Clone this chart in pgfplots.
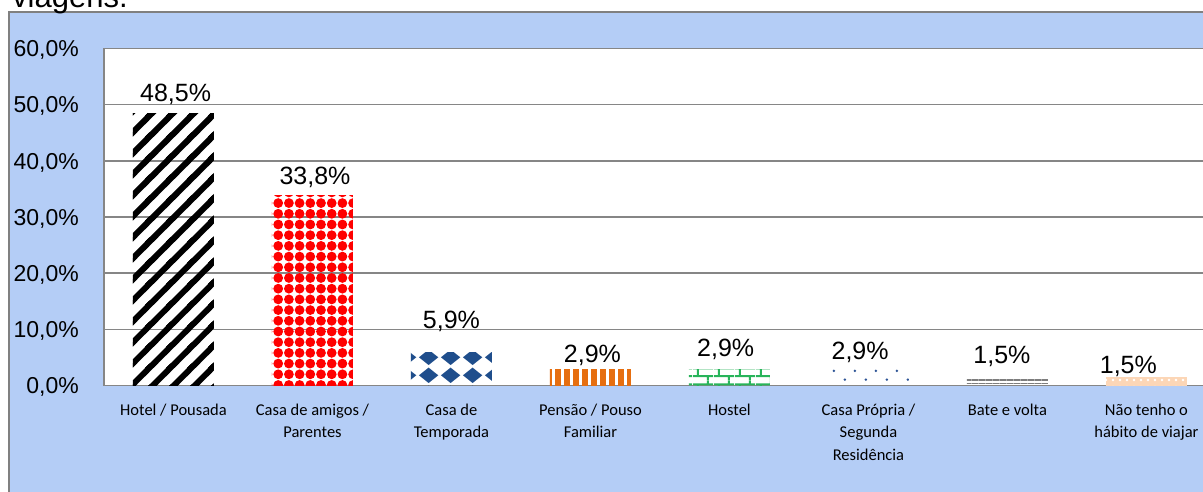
\documentclass[border=0pt]{standalone}
\usepackage{pgfplots}
\pgfplotsset{compat=1.18}
\usepackage{fontspec}
\setmainfont{Liberation Sans}
\newfontfamily\calibri{Carlito}
\usetikzlibrary{patterns.meta}

\definecolor{chartbg}{RGB}{180,205,246}
\definecolor{gridgray}{RGB}{134,134,134}
\definecolor{borderg}{RGB}{128,128,128}
\definecolor{tempblue}{RGB}{31,78,140}
\definecolor{pensaoor}{RGB}{230,110,15}
\definecolor{hostelgr}{RGB}{40,180,90}
\definecolor{propblue}{RGB}{47,85,151}
\definecolor{bategray}{RGB}{125,125,125}
\definecolor{peach}{RGB}{252,214,182}

\tikzdeclarepattern{
  name=widestripes,
  type=uncolored,
  bottom left={(-2bp,-2bp)},
  top right={(23bp,23bp)},
  tile size={(21bp,21bp)},
  code={
    \pgfsetlinewidth{6bp}
    \pgfpathmoveto{\pgfpoint{-26.75bp}{-10bp}}\pgfpathlineto{\pgfpoint{23.25bp}{40bp}}
    \pgfpathmoveto{\pgfpoint{-5.75bp}{-10bp}}\pgfpathlineto{\pgfpoint{44.25bp}{40bp}}
    \pgfpathmoveto{\pgfpoint{15.25bp}{-10bp}}\pgfpathlineto{\pgfpoint{65.25bp}{40bp}}
    \pgfpathmoveto{\pgfpoint{36.25bp}{-10bp}}\pgfpathlineto{\pgfpoint{86.25bp}{40bp}}
    \pgfusepath{stroke}
  }
}
\tikzdeclarepattern{
  name=bricks,
  type=uncolored,
  bottom left={(0bp,0bp)},
  top right={(21bp,16bp)},
  tile size={(21bp,16bp)},
  code={
    \pgfsetlinewidth{2bp}
    \pgfpathmoveto{\pgfpoint{0bp}{4bp}}\pgfpathlineto{\pgfpoint{21bp}{4bp}}
    \pgfpathmoveto{\pgfpoint{0bp}{12bp}}\pgfpathlineto{\pgfpoint{21bp}{12bp}}
    \pgfpathmoveto{\pgfpoint{5bp}{4bp}}\pgfpathlineto{\pgfpoint{5bp}{12bp}}
    \pgfpathmoveto{\pgfpoint{15.5bp}{12bp}}\pgfpathlineto{\pgfpoint{15.5bp}{16bp}}
    \pgfpathmoveto{\pgfpoint{15.5bp}{0bp}}\pgfpathlineto{\pgfpoint{15.5bp}{4bp}}
    \pgfusepath{stroke}
  }
}
\tikzdeclarepattern{
  name=diamonds,
  type=uncolored,
  bottom left={(0bp,0bp)},
  top right={(22bp,18bp)},
  tile size={(22bp,18bp)},
  code={
    \pgfpathmoveto{\pgfpoint{11bp}{1bp}}
    \pgfpathlineto{\pgfpoint{21bp}{9bp}}
    \pgfpathlineto{\pgfpoint{11bp}{17bp}}
    \pgfpathlineto{\pgfpoint{1bp}{9bp}}
    \pgfpathclose
    \pgfusepath{fill}
  }
}
\tikzdeclarepattern{
  name=sparsedots,
  type=uncolored,
  bottom left={(0bp,0bp)},
  top right={(21bp,18bp)},
  tile size={(21bp,18bp)},
  code={
    \pgfpathcircle{\pgfpoint{5bp}{4.5bp}}{1.4bp}
    \pgfpathcircle{\pgfpoint{15.5bp}{13.5bp}}{1.4bp}
    \pgfusepath{fill}
  }
}

\begin{document}
\begin{tikzpicture}[x=1bp,y=1bp]
\useasboundingbox (0,0) rectangle (1203,-492);
\clip (0,0) rectangle (1203,-492);
\fill[chartbg] (9,-12) rectangle (1240,-520);
\draw[borderg, line width=1.5bp] (9,-520) -- (9,-12) -- (1240,-12);
\node[anchor=base west, inner sep=0pt, font=\fontsize{31bp}{36bp}\selectfont] at (12,-7.5) {viagens.};
\begin{axis}[
  at={(104bp,-385.5bp)}, anchor=south west,
  scale only axis, width=1112bp, height=337bp,
  xmin=-0.5, xmax=7.5, ymin=0, ymax=60,
  axis background/.style={fill=white},
  axis line style={gridgray, line width=1.5bp},
  ymajorgrids, major grid style={gridgray, line width=1.5bp},
  major tick length=0pt,
  ytick={0,10,20,30,40,50,60},
  yticklabels={{0,0\%},{10,0\%},{20,0\%},{30,0\%},{40,0\%},{50,0\%},{60,0\%}},
  yticklabel style={font=\fontsize{23bp}{27bp}\selectfont, anchor=base east, inner sep=0pt, xshift=-25bp, yshift=-8.3bp},
  xtick={0,1,2,3,4,5,6,7},
  xticklabels={
    {Hotel / Pousada},
    {Casa de amigos /\\Parentes},
    {Casa de\\Temporada},
    {Pensão / Pouso\\Familiar},
    {Hostel},
    {Casa Própria /\\Segunda\\Residência},
    {Bate e volta},
    {Não tenho o\\hábito de viajar}},
  xticklabel style={font=\calibri\fontsize{16.5bp}{22.8bp}\selectfont, align=center, anchor=north, inner sep=0pt, yshift=-18bp},
  clip=false,
]
\addplot[ybar, bar width=81bp, draw=none, pattern=widestripes, pattern color=black]
  coordinates {(0,48.5)};
\addplot[ybar, bar width=81bp, draw=none, pattern={Dots[distance=10.7bp,radius=4.9bp]}, pattern color=red]
  coordinates {(1,33.8)};
\addplot[ybar, bar width=81bp, draw=none, pattern=diamonds, pattern color=tempblue]
  coordinates {(2,5.9)};
\addplot[ybar, bar width=81bp, draw=none, pattern={Lines[angle=90,distance=9bp,line width=5.5bp]}, pattern color=pensaoor]
  coordinates {(3,2.9)};
\addplot[ybar, bar width=81bp, draw=none, pattern=bricks, pattern color=hostelgr]
  coordinates {(4,2.9)};
\addplot[ybar, bar width=81bp, draw=none, pattern=sparsedots, pattern color=propblue]
  coordinates {(5,2.9)};
\addplot[ybar, bar width=81bp, draw=none, pattern={Lines[angle=0,distance=3.5bp,line width=1.6bp]}, pattern color=bategray]
  coordinates {(6,1.5)};
\addplot[ybar, bar width=81bp, draw=none, preaction={fill=peach}, pattern={Dots[distance=7bp,radius=1.4bp]}, pattern color=white]
  coordinates {(7,1.5)};
\begin{scope}[every node/.style={anchor=base, inner sep=0pt, font=\fontsize{25bp}{30bp}\selectfont}]
\node at (axis cs:0.015,50.5) {48,5\%};
\node at (axis cs:1.018,35.8) {33,8\%};
\node at (axis cs:2,10.18) {5,9\%};
\node at (axis cs:3.014,4.13) {2,9\%};
\node at (axis cs:3.973,5.13) {2,9\%};
\node at (axis cs:4.94,4.66) {2,9\%};
\node at (axis cs:5.96,3.83) {1,5\%};
\node at (axis cs:6.87,2.17) {1,5\%};
\end{scope}
\end{axis}
\end{tikzpicture}
\end{document}
